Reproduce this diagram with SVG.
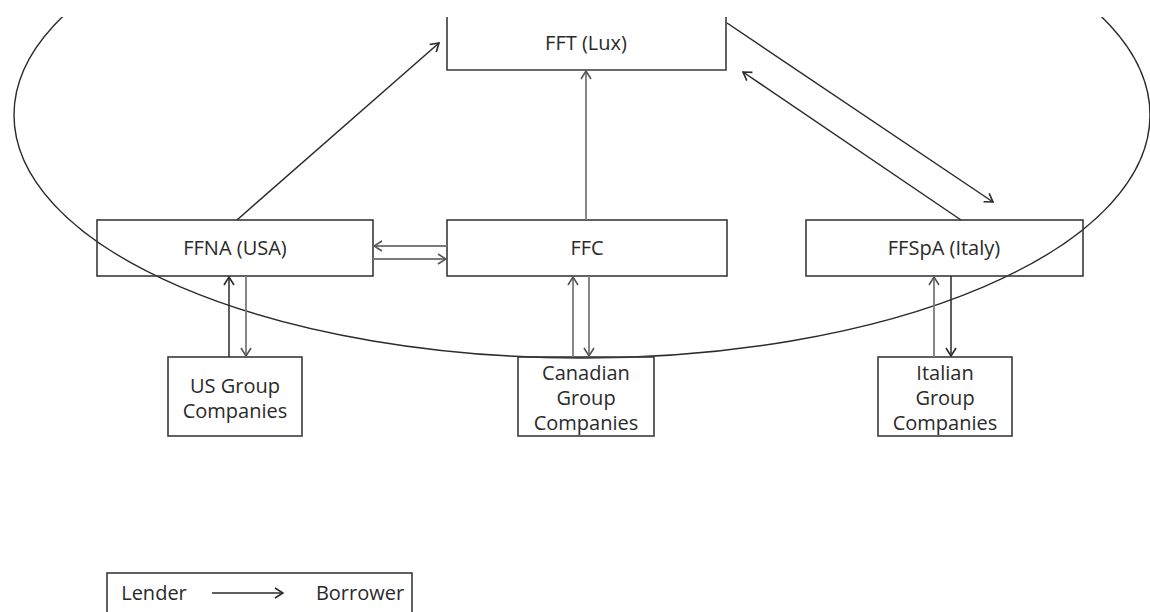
<svg xmlns="http://www.w3.org/2000/svg" width="1150" height="612" viewBox="0 0 1150 612">
<style>
.box{fill:none;stroke:#3a3a3a;stroke-width:1.6}
.t{font-family:"Open Sans","Liberation Sans",sans-serif;font-size:20px;fill:#2a2a2a;text-anchor:middle}
.c{fill:none;stroke:#2a2a2a;stroke-width:1.5}
.g{fill:none;stroke:#7a7a7a;stroke-width:1.8}
</style>
<defs>
<clipPath id="clip"><rect x="0" y="17" width="1150" height="600"/></clipPath>
<marker id="ad" viewBox="0 0 10 12" refX="9" refY="6" markerWidth="10" markerHeight="12" orient="auto" markerUnits="userSpaceOnUse">
<path d="M1,1 L9,6 L1,11" fill="none" stroke="#2a2a2a" stroke-width="1.6"/>
</marker>
<marker id="ag" viewBox="0 0 10 12" refX="9" refY="6" markerWidth="10" markerHeight="12" orient="auto" markerUnits="userSpaceOnUse">
<path d="M1,1 L9,6 L1,11" fill="none" stroke="#555" stroke-width="1.6"/>
</marker>
</defs>
<rect width="1150" height="612" fill="#fff"/>
<g id="boundary" clip-path="url(#clip)">
<ellipse cx="582" cy="115" rx="568" ry="243" fill="none" stroke="#2a2a2a" stroke-width="1.4"/>
</g>
<g id="fft">
<path class="box" d="M447,17 V70 H726 V17"/>
<text class="t" x="586" y="50">FFT (Lux)</text>
</g>
<g id="ffna">
<rect class="box" x="97" y="220" width="276" height="56"/>
<text class="t" x="235" y="255">FFNA (USA)</text>
</g>
<g id="ffc">
<rect class="box" x="447" y="220" width="280" height="56"/>
<text class="t" x="587" y="255">FFC</text>
</g>
<g id="ffspa">
<rect class="box" x="806" y="220" width="277" height="56"/>
<text class="t" x="944" y="255">FFSpA (Italy)</text>
</g>
<g id="us">
<rect class="box" x="168" y="357" width="134" height="79"/>
<text class="t" x="235" y="393">US Group</text>
<text class="t" x="235" y="418">Companies</text>
</g>
<g id="canada">
<rect class="box" x="518" y="357" width="136" height="79"/>
<text class="t" x="586" y="380">Canadian</text>
<text class="t" x="586" y="405">Group</text>
<text class="t" x="586" y="430">Companies</text>
</g>
<g id="italy">
<rect class="box" x="878" y="357" width="134" height="79"/>
<text class="t" x="945" y="380">Italian</text>
<text class="t" x="945" y="405">Group</text>
<text class="t" x="945" y="430">Companies</text>
</g>
<g id="connectors">
<line class="c" x1="237" y1="220" x2="439" y2="43" marker-end="url(#ad)"/>
<line class="g" x1="586" y1="220" x2="586" y2="71" marker-end="url(#ag)"/>
<line class="c" x1="727" y1="23" x2="993" y2="202" marker-end="url(#ad)"/>
<line class="c" x1="961" y1="220" x2="743" y2="72" marker-end="url(#ad)"/>
<line class="g" x1="447" y1="246" x2="374" y2="246" marker-end="url(#ag)"/>
<line class="g" x1="373" y1="259" x2="446" y2="259" marker-end="url(#ag)"/>
<line class="c" x1="229" y1="357" x2="229" y2="277" marker-end="url(#ad)"/>
<line class="g" x1="246" y1="276" x2="246" y2="356" marker-end="url(#ag)"/>
<line class="g" x1="573" y1="357" x2="573" y2="277" marker-end="url(#ag)"/>
<line class="g" x1="589" y1="276" x2="589" y2="356" marker-end="url(#ag)"/>
<line class="g" x1="934" y1="357" x2="934" y2="277" marker-end="url(#ag)"/>
<line class="c" x1="951" y1="276" x2="951" y2="356" marker-end="url(#ad)"/>
</g>
<g id="legend">
<rect class="box" x="107" y="573" width="305" height="50"/>
<text class="t" x="154" y="600">Lender</text>
<line class="c" x1="212" y1="593" x2="283" y2="593" marker-end="url(#ad)"/>
<text class="t" x="360" y="600">Borrower</text>
</g>
</svg>
